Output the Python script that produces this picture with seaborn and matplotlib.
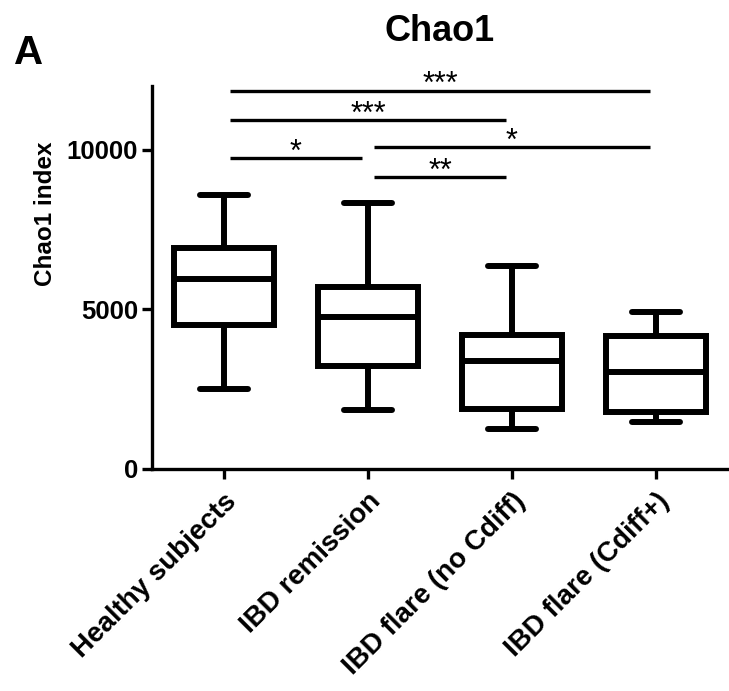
import pandas as pd
import matplotlib.pyplot as plt
import seaborn as sns

# five-number summaries (min, Q1, median, Q3, max)
groups = ["Healthy subjects", "IBD remission", "IBD flare (no Cdiff)", "IBD flare (Cdiff+)"]
healthy = [2500, 4500, 5950, 6920, 8570]
remission = [1850, 3230, 4770, 5700, 8350]
flare_no_cdiff = [1240, 1870, 3370, 4200, 6360]
flare_cdiff = [1460, 1800, 3050, 4170, 4910]

# significance brackets: (group a, group b, height, label)
sig_a = [0, 0, 1, 0, 1]
sig_b = [3, 2, 3, 1, 2]
sig_y = [11850, 10920, 10080, 9740, 9140]
sig_text = ["***", "***", "*", "*", "**"]

# long-form table for seaborn
rows = []
for name, vals in zip(groups, [healthy, remission, flare_no_cdiff, flare_cdiff]):
    for v in vals:
        rows.append({"group": name, "chao1": v})
df = pd.DataFrame(rows)

sns.set_style("ticks")
plt.rcParams['font.family'] = ['Liberation Sans', 'DejaVu Sans']
plt.rcParams['text.color'] = 'black'
plt.rcParams['axes.labelcolor'] = 'black'
plt.rcParams['axes.edgecolor'] = 'black'
plt.rcParams['xtick.color'] = 'black'
plt.rcParams['ytick.color'] = 'black'

fig = plt.figure(figsize=(7.29, 6.91), dpi=100)
ax = fig.add_axes([0.2085, 0.3213, 0.7901, 0.5542])

sns.boxplot(data=df, x="group", y="chao1", order=groups, whis=(0, 100),
            color="white", linecolor="black", linewidth=4.3, width=0.69,
            capwidths=0.33, showfliers=False, ax=ax)

# brackets and stars
for a, b, y, t in zip(sig_a, sig_b, sig_y, sig_text):
    ax.plot([a + 0.045, b - 0.045], [y, y], color="black", lw=2.4,
            solid_capstyle="butt", clip_on=False)
    ax.text((a + b) / 2, y - 80, t, ha="center", va="baseline",
            fontsize=22, color="black")

ax.set_xlim(-0.5, 3.5)
ax.set_ylim(0, 12000)
ax.set_yticks([0, 5000, 10000])
ax.set_xlabel("")
ax.set_ylabel("Chao1 index", fontsize=17.5, fontweight="bold")
ax.yaxis.set_label_coords(-0.165, 0.666)

for s in ["top", "right"]:
    ax.spines[s].set_visible(False)
for s in ["left", "bottom"]:
    ax.spines[s].set_linewidth(2.4)
ax.tick_params(axis="both", length=7, width=2.4, labelsize=18.5, pad=3)
ax.tick_params(axis="x", pad=7)
for lab in ax.get_yticklabels():
    lab.set_fontweight("bold")
ax.set_xticks(range(len(groups)))
ax.set_xticklabels(groups, rotation=45, ha="right", rotation_mode="anchor",
                   fontweight="bold", fontsize=20)

fig.text(0.603, 0.955, "Chao1", ha="center", va="center", fontsize=26, fontweight="bold")
fig.text(0.039, 0.924, "A", ha="center", va="center", fontsize=29, fontweight="bold")

fig.savefig("out.png", dpi=100)
